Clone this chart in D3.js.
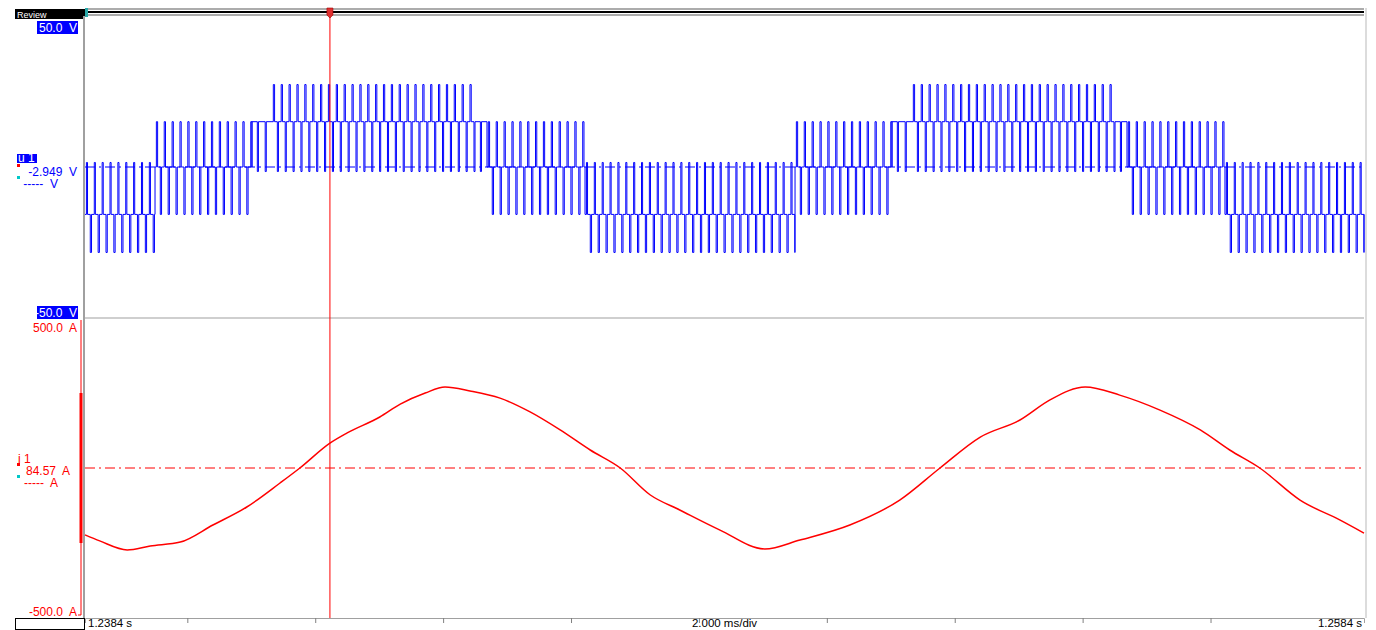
<!DOCTYPE html>
<html><head><meta charset="utf-8">
<script src="https://cdn.jsdelivr.net/npm/d3@7"></script>
<style>
body{margin:0;background:#fff;overflow:hidden;}
svg{display:block;}
text{font-family:"Liberation Sans",Arial,sans-serif;}
</style>
</head><body>
<svg id="c" width="1376" height="630"></svg>
<script>
// ---------- labels / ranges ----------
const timeLabels = ["1.2384 s", "2.000 ms/div", "1.2584 s"];
const timeDomainMs = [0, 20];
const timeDivMs = 2;
const firstGridTickMs = 1.6; // 1.2400 s on the absolute time grid
const voltDomain = [-50, 50];
const ampDomain = [-500, 500];
const voltScaleLabels = ["50.0  V", "-50.0  V"];
const ampScaleLabels = ["500.0  A", "-500.0  A"];
const channelNames = ["u 1", "i 1"];
const cursorReadings = ["-2.949  V", "84.57  A"];
const deltaReadings = ["-----  V", "-----  A"];
const cursorTimeMs = 3.83;

// ---------- voltage (PWM, 5-level) segments ----------
const segStart = [0, 1.095, 2.611, 2.924, 6.099, 6.286, 7.819, 11.103, 12.619, 12.932, 16.107, 16.294, 17.826];
const segEnd   = [1.095, 2.611, 2.924, 6.099, 6.286, 7.819, 11.103, 12.619, 12.932, 16.107, 16.294, 17.826, 20];
const segLow   = [-28.3, -15.7, -1.5, -1.5, -1.5, -15.7, -28.3, -15.7, -1.5, -1.5, -1.5, -15.7, -28.3];
const segMid   = [-15.7, 0, 15, 15, 15, 0, -15.7, 0, 15, 15, 15, 0, -15.7];
const segHigh  = [1.5, 15, 15, 27.3, 15, 15, 1.5, 15, 15, 27.3, 15, 15, 1.5];
const segUpDuty   = [0.14, 0.16, 0.0, 0.16, 0.0, 0.16, 0.14, 0.16, 0.0, 0.16, 0.0, 0.16, 0.14];
const segDownDuty = [0.16, 0.16, 0.14, 0.14, 0.14, 0.16, 0.16, 0.16, 0.14, 0.14, 0.14, 0.16, 0.16];
const carrierPeriodMs = 0.123;

// ---------- current samples ----------
const currentTimeMs = [0, 0.23, 0.66, 1.02, 1.49, 2.00, 2.53, 3.05, 3.36, 3.83, 4.10, 4.61, 4.93, 5.32, 5.63, 6.02, 6.49, 6.96, 7.43, 7.90, 8.37, 8.84, 9.30, 9.93, 10.63, 11.18, 11.96, 12.74, 13.37, 14.00, 14.62, 15.09, 15.64, 16.18, 16.81, 17.44, 17.90, 18.37, 19.00, 19.62, 20.0];
const currentAmps   = [-223, -243, -273, -260, -247, -190, -130, -50, 0, 83, 117, 170, 213, 250, 270, 257, 233, 187, 127, 60, 0, -90, -140, -207, -270, -240, -190, -107, 0, 103, 160, 227, 270, 243, 193, 127, 60, 0, -107, -173, -217];

// ---------- drawing ----------
const svg = d3.select("#c");
const W = 1376, H = 630;
const X0 = 85, X1 = 1364;
const topY0 = 16, sepY = 318, botY1 = 618;
const blue = "#0000ff", red = "#ff0000", gray = "#a0a0a0";

const x = d3.scaleLinear().domain(timeDomainMs).range([X0, X1]);
const yV = d3.scaleLinear().domain(voltDomain).range([sepY, topY0]);
const yA = d3.scaleLinear().domain(ampDomain).range([botY1, sepY]);

svg.append("rect").attr("width", W).attr("height", H).attr("fill", "#fff");

// top bar
const tb = svg.append("g");
tb.append("rect").attr("x", 15).attr("y", 9).attr("width", 70).attr("height", 10).attr("fill", "#000");
tb.append("text").attr("x", 17).attr("y", 17.5).attr("fill", "#fff").attr("font-size", 9).text("Review");
[[9, "#909090"], [12, "#000"], [15, "#909090"]].forEach(([yy, c]) => {
  tb.append("line").attr("x1", 87).attr("x2", X1).attr("y1", yy).attr("y2", yy)
    .attr("stroke", c).attr("stroke-width", yy === 12 ? 2 : 1.5);
});
tb.append("rect").attr("x", 85).attr("y", 8).attr("width", 3).attr("height", 9).attr("fill", "#2aa8a8");

// right border
svg.append("line").attr("x1", 1366).attr("x2", 1366).attr("y1", 8).attr("y2", botY1)
  .attr("stroke", "#dcdcdc").attr("stroke-width", 2);

// panel separator and left axis
svg.append("line").attr("x1", X0).attr("x2", X1).attr("y1", sepY).attr("y2", sepY).attr("stroke", gray).attr("stroke-width", 1.2);
svg.append("line").attr("x1", X0 - 1).attr("x2", X0 - 1).attr("y1", topY0).attr("y2", botY1 + 1).attr("stroke", gray).attr("stroke-width", 2);

// bottom axis
const xAxis = d3.axisBottom(x).tickValues(d3.range(firstGridTickMs, timeDomainMs[1], timeDivMs))
  .tickSize(5).tickFormat("");
const gx = svg.append("g").attr("transform", `translate(0,${botY1})`).call(xAxis);
gx.select(".domain").attr("stroke", gray);
gx.selectAll(".tick line").attr("stroke", "#808080");
svg.append("rect").attr("x", 15.5).attr("y", botY1 + 0.5).attr("width", 69).attr("height", 11)
  .attr("fill", "#fff").attr("stroke", "#000");
svg.append("text").attr("x", X0 + 3).attr("y", 627).attr("font-size", 11.5).attr("fill", "#000").text(timeLabels[0]);
svg.append("text").attr("x", (X0 + X1) / 2).attr("y", 627).attr("font-size", 11.5).attr("text-anchor", "middle").attr("fill", "#000").text(timeLabels[1]);
svg.append("text").attr("x", X1 - 2).attr("y", 627).attr("font-size", 11.5).attr("text-anchor", "end").attr("fill", "#000").text(timeLabels[2]);

// zero reference dash-dot lines
svg.append("line").attr("x1", X0).attr("x2", X1).attr("y1", yV(0)).attr("y2", yV(0))
  .attr("stroke", blue).attr("stroke-dasharray", "10,4,2,4").attr("stroke-width", 1);
svg.append("line").attr("x1", X0).attr("x2", X1).attr("y1", yA(0)).attr("y2", yA(0))
  .attr("stroke", red).attr("stroke-dasharray", "10,4,2,4").attr("stroke-width", 1);

// voltage PWM trace
let d = "";
segStart.forEach((t0, i) => {
  const t1 = segEnd[i];
  const lo = yV(segLow[i]), mid = yV(segMid[i]), hi = yV(segHigh[i]);
  d += (i === 0 ? "M" : "L") + x(t0) + "," + mid;
  for (let tk = t0; tk < t1 - 1e-9; tk += carrierPeriodMs) {
    const T = carrierPeriodMs;
    const upC = tk + 0.25 * T, dnC = tk + 0.75 * T;
    const uw = segUpDuty[i] * T, dw = segDownDuty[i] * T;
    if (uw > 0 && upC - uw / 2 < t1) {
      d += "H" + x(upC - uw / 2) + "V" + hi + "H" + x(Math.min(t1, upC + uw / 2)) + "V" + mid;
    }
    if (dw > 0 && dnC - dw / 2 < t1) {
      d += "H" + x(dnC - dw / 2) + "V" + lo + "H" + x(Math.min(t1, dnC + dw / 2)) + "V" + mid;
    }
  }
  d += "H" + x(t1);
});
svg.append("path").attr("d", d).attr("fill", "none").attr("stroke", blue).attr("stroke-width", 1);

// current trace
const curData = currentTimeMs.map((t, i) => [t, currentAmps[i]]);
svg.append("path").datum(curData)
  .attr("d", d3.line().x(p => x(p[0])).y(p => yA(p[1])).curve(d3.curveMonotoneX))
  .attr("fill", "none").attr("stroke", red).attr("stroke-width", 1.5);

// current channel range bracket
svg.append("line").attr("x1", 81).attr("x2", 81).attr("y1", sepY + 2).attr("y2", 615).attr("stroke", red).attr("stroke-width", 1);
svg.append("line").attr("x1", 78).attr("x2", 81).attr("y1", 615).attr("y2", 615).attr("stroke", red).attr("stroke-width", 1);
svg.append("line").attr("x1", 81).attr("x2", 81).attr("y1", 393).attr("y2", 543).attr("stroke", red).attr("stroke-width", 3);

// cursor
svg.append("line").attr("x1", x(cursorTimeMs)).attr("x2", x(cursorTimeMs)).attr("y1", 10).attr("y2", botY1)
  .attr("stroke", red).attr("stroke-width", 1);
const cx = x(cursorTimeMs);
svg.append("path").attr("d", `M${cx - 3},8 H${cx + 3} V15 L${cx},18 L${cx - 3},15 Z`).attr("fill", "#e03030").attr("stroke", "#a00000").attr("stroke-width", 0.6);

// left labels
function boxLabel(yTop, txt) {
  svg.append("rect").attr("x", 37).attr("y", yTop).attr("width", 41).attr("height", 13).attr("fill", blue);
  svg.append("text").attr("x", 77).attr("y", yTop + 11).attr("font-size", 12).attr("text-anchor", "end")
    .attr("fill", "#fff").style("white-space", "pre").text(txt);
}
boxLabel(21, voltScaleLabels[0]);
boxLabel(306, voltScaleLabels[1]);

svg.append("rect").attr("x", 17).attr("y", 154).attr("width", 20).attr("height", 9).attr("fill", blue);
svg.append("text").attr("x", 18).attr("y", 162).attr("font-size", 12).attr("fill", "#fff").style("white-space", "pre").text(channelNames[0]);
svg.append("rect").attr("x", 17).attr("y", 164).attr("width", 3).attr("height", 3).attr("fill", red);
svg.append("rect").attr("x", 17).attr("y", 176).attr("width", 3).attr("height", 3).attr("fill", "#00c8c8");
svg.append("text").attr("x", 77).attr("y", 176).attr("font-size", 12).attr("text-anchor", "end").attr("fill", blue).style("white-space", "pre").text(cursorReadings[0]);
svg.append("text").attr("x", 58).attr("y", 188).attr("font-size", 12).attr("text-anchor", "end").attr("fill", blue).style("white-space", "pre").text(deltaReadings[0]);

svg.append("text").attr("x", 77).attr("y", 332).attr("font-size", 12).attr("text-anchor", "end").attr("fill", red).style("white-space", "pre").text(ampScaleLabels[0]);
svg.append("text").attr("x", 77).attr("y", 616).attr("font-size", 12).attr("text-anchor", "end").attr("fill", red).style("white-space", "pre").text(ampScaleLabels[1]);

svg.append("text").attr("x", 18).attr("y", 463).attr("font-size", 12).attr("fill", red).style("white-space", "pre").text(channelNames[1]);
svg.append("rect").attr("x", 17).attr("y", 463).attr("width", 3).attr("height", 3).attr("fill", red);
svg.append("rect").attr("x", 17).attr("y", 475).attr("width", 3).attr("height", 3).attr("fill", "#00c8c8");
svg.append("text").attr("x", 70).attr("y", 475).attr("font-size", 12).attr("text-anchor", "end").attr("fill", red).style("white-space", "pre").text(cursorReadings[1]);
svg.append("text").attr("x", 58).attr("y", 487).attr("font-size", 12).attr("text-anchor", "end").attr("fill", red).style("white-space", "pre").text(deltaReadings[1]);
</script>
</body></html>
